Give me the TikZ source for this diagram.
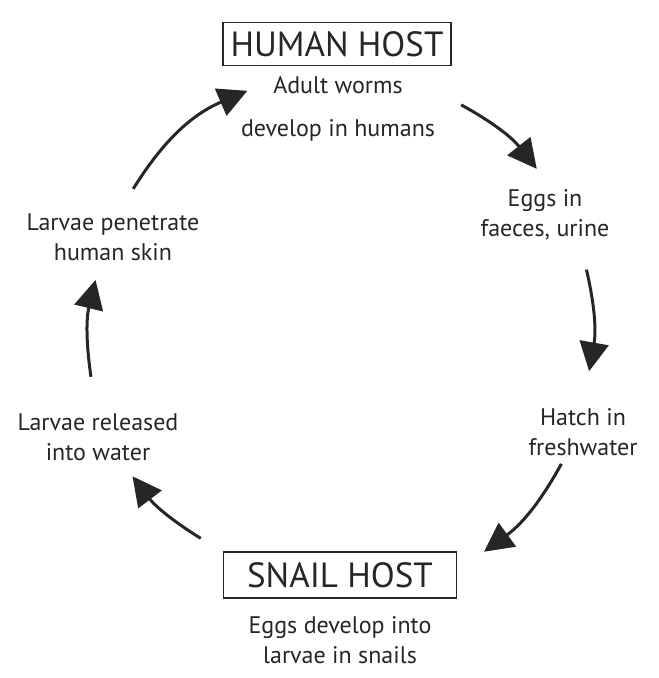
\documentclass[tikz,border=0pt]{standalone}
\usepackage{fontspec}
\setmainfont{PT Sans}
\usetikzlibrary{arrows.meta}

\begin{document}
\begin{tikzpicture}[x=1pt,y=1pt,>={Triangle[length=29pt,width=29pt]},
  cyc/.style={->,line width=3pt,draw=black!85},
  stage/.style={align=center,font=\fontsize{24}{30}\selectfont,text=black!85},
  hostbox/.style={draw=black!85,line width=1.6pt,font=\fontsize{35}{38}\selectfont,text=black!85,inner sep=0pt}]
  \useasboundingbox (0,0) rectangle (659,678);
  % hosts
  \node[hostbox,minimum width=228,minimum height=43] (human) at (337,634) {HUMAN HOST};
  \node[hostbox,minimum width=233,minimum height=46] (snail) at (340,103) {SNAIL HOST};
  % stages round the cycle
  \node[stage] (adult) at (338,569) {Adult worms\\[13pt]develop in humans};
  \node[stage] (eggs) at (545,463) {Eggs in\\faeces, urine};
  \node[stage] (hatch) at (583,246) {Hatch in\\freshwater};
  \node[stage] (develop) at (340,38) {Eggs develop into\\larvae in snails};
  \node[stage] (released) at (98,241) {Larvae released\\into water};
  \node[stage] (penetrate) at (113,441) {Larvae penetrate\\human skin};
  % arrow ends on the circle
  \coordinate (c) at (338,351);
  \path (c) ++(61:254) coordinate (s1) (c) ++(38.5:254) coordinate (t1);
  \path (c) ++(13:255) coordinate (s2) (c) ++(-10:255) coordinate (t2);
  \path (c) ++(-31.5:262) coordinate (s3) (c) ++(-57:268) coordinate (t3);
  \path (c) ++(-123:252) coordinate (s4) (c) ++(-144:254) coordinate (t4);
  \path (c) ++(191.4:252) coordinate (s5) (c) ++(169:247) coordinate (t5);
  \path (c) ++(146:247) coordinate (s6) (c) ++(111:253) coordinate (t6);
  \draw[cyc] (s1) to[bend left=11.5] (t1);
  \draw[cyc] (s2) to[bend left=11.5] (t2);
  \draw[cyc] (s3) to[bend left=12.5] (t3);
  \draw[cyc] (s4) to[bend left=10.5] (t4);
  \draw[cyc] (s5) to[bend left=11] (t5);
  \draw[cyc] (s6) to[bend left=17.5] (t6);
\end{tikzpicture}
\end{document}
